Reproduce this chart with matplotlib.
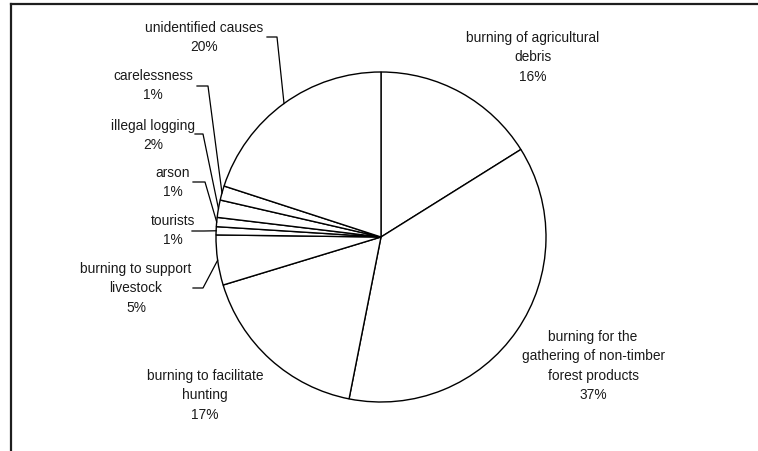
import numpy as np
import matplotlib.pyplot as plt

# causes of forest fires, share of all fires (%)
causes = [
    ["burning of agricultural", "debris"],
    ["burning for the", "gathering of non-timber", "forest products"],
    ["burning to facilitate", "hunting"],
    ["burning to support", "livestock"],
    ["tourists"],
    ["arson"],
    ["illegal logging"],
    ["carelessness"],
    ["unidentified causes"],
]
shares = [16.1, 37.0, 17.2, 4.9, 0.8, 0.9, 1.7, 1.4, 20.0]

W, H = 758, 452
CX, CY, R = 381, 238, 165   # pie centre / radius in pixels (y from top)


def py(y):
    return H - y


fig = plt.figure(figsize=(W / 100, H / 100), dpi=100)
ax = fig.add_axes([0, 0, 1, 1])

wedges, _ = ax.pie(shares, startangle=90, counterclock=False, radius=R,
                   center=(CX, py(CY)), colors=["white"] * len(shares),
                   wedgeprops=dict(edgecolor="black", linewidth=1.0))

ax.set_xlim(0, W)
ax.set_ylim(0, H)
ax.set_aspect("equal")
ax.axis("off")

# chart border (only top and left edges fall inside the image)
ax.plot([11, 11], [-10, py(5)], color="#1e1e1e", lw=1.6, solid_capstyle="projecting")
ax.plot([11, W + 10], [py(5), py(5)], color="#1e1e1e", lw=1.6, solid_capstyle="projecting")

# label block centre x and first line y (pixels from top)
label_pos = [
    (533, 38), (593, 337), (205, 376), (136, 269),
    (173, 221), (173, 173), (153, 126), (153, 76), (204, 28),
]
LINE = 19.3

for lines, v, (lx, ly) in zip(causes, shares, label_pos):
    for i, t in enumerate(lines + [f"{round(v):.0f}%"]):
        ax.text(lx, py(ly + i * LINE), t, ha="center", va="center",
                fontsize=9.9, family="Liberation Sans", color="#1a1a1a")

# leader lines: text-side start, elbow, then to the wedge edge
leaders = {
    8: [(267, 38), (277, 38)],
    7: [(197, 87), (208, 87)],
    6: [(195, 135), (203, 135)],
    5: [(193, 183), (205, 183)],
    4: [(192, 232), (204, 232)],
    3: [(193, 289), (203, 289)],
}
for idx, pts in leaders.items():
    w = wedges[idx]
    mid = np.deg2rad((w.theta1 + w.theta2) / 2)
    ex = CX + R * np.cos(mid)
    ey = py(CY) + R * np.sin(mid)
    xs = [p[0] for p in pts] + [ex]
    ys = [py(p[1]) for p in pts] + [ey]
    ax.plot(xs, ys, color="black", lw=0.9)

fig.savefig("out.png", dpi=100)
